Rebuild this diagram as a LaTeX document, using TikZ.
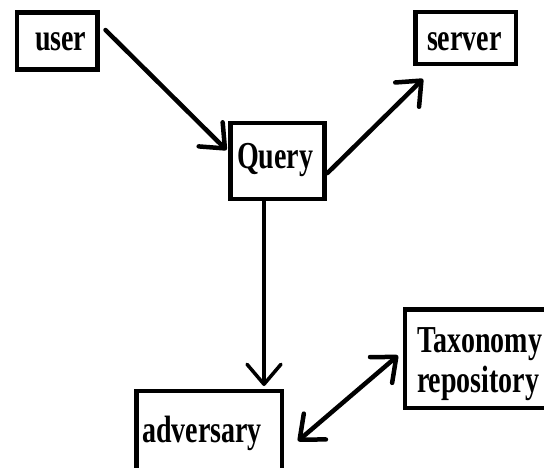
\documentclass[tikz,border=0pt]{standalone}
\usepackage{fontspec}
\setmainfont{Liberation Serif}
\usetikzlibrary{arrows.meta}
\newcommand{\vtxt}[1]{\scalebox{1}[1.36]{#1}}
\tikzset{
  box/.style={draw=black, line width=4.5pt, inner sep=0pt, outer sep=0pt, fill=white},
  lbl/.style={inner sep=0pt, outer sep=0pt, anchor=base west, font=\fontsize{28}{30}\selectfont\bfseries, text=black},
  arr/.style={line width=4.5pt, line cap=round, -{Straight Barb[length=20pt,width=34pt,round]}},
  darr/.style={line width=4.5pt, line cap=round, {Straight Barb[length=20pt,width=34pt,round]}-{Straight Barb[length=20pt,width=34pt,round]}}
}
\begin{document}
\begin{tikzpicture}[x=1pt,y=-1pt]
\useasboundingbox (0,0) rectangle (544,467);
\clip (0,0) rectangle (544,467);
\fill[white] (0,0) rectangle (544,467);
% boxes
\node[box, minimum width=80.5pt, minimum height=57pt] (user) at (57.25,41) {};
\node[box, minimum width=94pt, minimum height=76pt] (query) at (277.5,161) {};
\node[box, minimum width=100.5pt, minimum height=52pt] (server) at (465.75,38) {};
\node[box, minimum width=151pt, minimum height=98.5pt] (tax) at (480.5,358.75) {};
\node[box, minimum width=145.3pt, minimum height=89pt] (adv) at (209.3,435.5) {};
% labels
\node[lbl] (usert) at (35,50) {\vtxt{user}};
\node[lbl] (queryt) at (237,168) {\vtxt{Query}};
\node[lbl] (servert) at (427,50) {\vtxt{server}};
\node[lbl] (taxt1) at (417,352) {\vtxt{Taxonomy}};
\node[lbl] (taxt2) at (417,392) {\vtxt{repository}};
\node[lbl] (advt) at (142,442) {\vtxt{adversary}};
% connectors
\draw[arr] ([shift={(8,-11)}]user.east) -- ([shift={(-4,27)}]query.north west);
\draw[arr] ([shift={(3,-26)}]query.south east) -- ([shift={(7.5,15)}]server.south west);
\draw[arr, line width=3.5pt] ([shift={(-13.5,2)}]query.south) -- ([shift={(54.7,-5)}]adv.north);
\draw[darr] ([shift={(16,50)}]adv.north east) -- ([shift={(-7,46)}]tax.north west);
\end{tikzpicture}
\end{document}
